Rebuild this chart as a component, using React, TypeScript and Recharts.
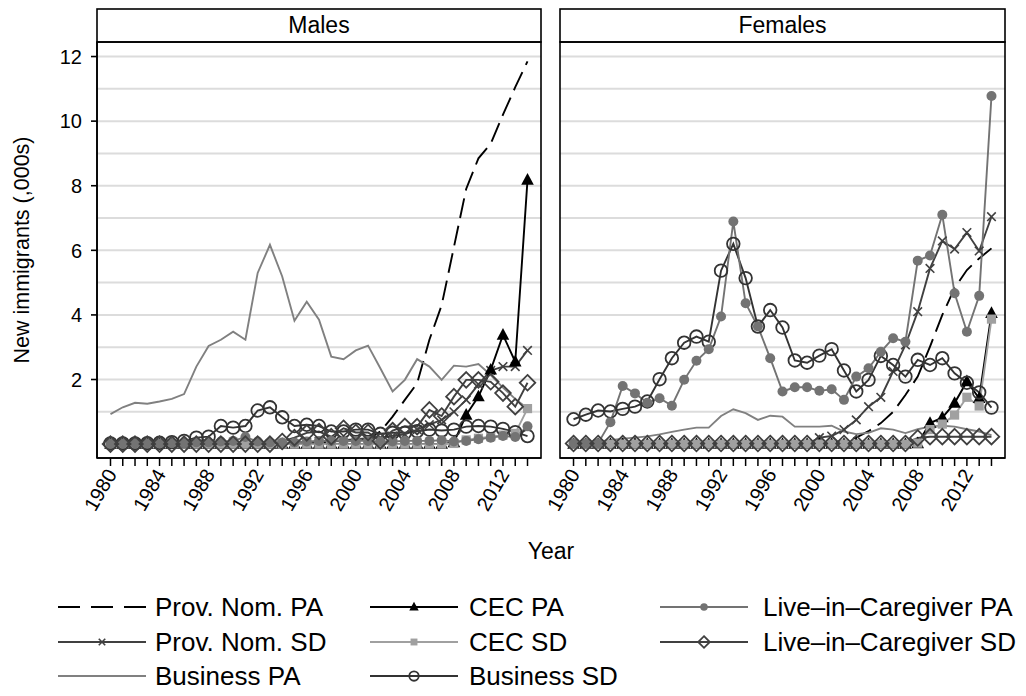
import React from "react";
import { LineChart, Line, XAxis, YAxis, CartesianGrid } from "recharts";

const FONT = '"Liberation Sans", Arial, Helvetica, sans-serif';

const years = [
  1980, 1981, 1982, 1983, 1984, 1985, 1986, 1987, 1988, 1989,
  1990, 1991, 1992, 1993, 1994, 1995, 1996, 1997, 1998, 1999,
  2000, 2001, 2002, 2003, 2004, 2005, 2006, 2007, 2008, 2009,
  2010, 2011, 2012, 2013, 2014,
];
const yearLabels = [1980, 1984, 1988, 1992, 1996, 2000, 2004, 2008, 2012];
const gridValues = [1, 2, 3, 4, 5, 6, 7, 8, 9, 10, 11, 12];
const yLabels = [2, 4, 6, 8, 10, 12];

// Males (thousands)
const provNomPA_M = [0, 0, 0, 0, 0, 0, 0, 0, 0, 0, 0, 0, 0, 0, 0, 0, 0.02, 0.05, 0.08, 0.1, 0.12, 0.15, 0.39, 0.85, 1.37, 1.88, 3.23, 4.3, 6.1, 7.9, 8.85, 9.3, 10.2, 11.05, 11.85];
const provNomSD_M = [0, 0, 0, 0, 0, 0, 0, 0, 0, 0, 0, 0, 0, 0, 0, 0, 0.05, 0.08, 0.1, 0.12, 0.15, 0.18, 0.2, 0.25, 0.3, 0.45, 0.6, 0.75, 1.0, 1.37, 1.85, 2.28, 2.4, 2.4, 2.9];
const businessPA_M = [0.93, 1.14, 1.28, 1.25, 1.32, 1.4, 1.55, 2.4, 3.04, 3.23, 3.48, 3.23, 5.3, 6.17, 5.19, 3.82, 4.41, 3.85, 2.71, 2.63, 2.9, 3.05, 2.35, 1.63, 1.99, 2.63, 2.4, 1.99, 2.43, 2.4, 2.48, 2.14, 1.75, 1.4, 1.1];
const cecPA_M = [0, 0, 0, 0, 0, 0, 0, 0, 0, 0, 0, 0, 0, 0, 0, 0, 0, 0, 0, 0, 0, 0, 0, 0, 0, 0, 0, 0, 0.05, 0.9, 1.47, 2.3, 3.38, 2.55, 8.18];
const cecSD_M = [0, 0, 0, 0, 0, 0, 0, 0, 0, 0, 0, 0, 0, 0, 0, 0, 0, 0, 0, 0, 0, 0, 0, 0, 0, 0, 0, 0, 0.02, 0.13, 0.18, 0.23, 0.28, 0.33, 1.1];
const businessSD_M = [0.02, 0.02, 0.02, 0.03, 0.04, 0.06, 0.1, 0.2, 0.23, 0.56, 0.51, 0.56, 1.04, 1.14, 0.83, 0.56, 0.6, 0.56, 0.39, 0.39, 0.45, 0.45, 0.32, 0.35, 0.35, 0.4, 0.45, 0.42, 0.45, 0.54, 0.56, 0.54, 0.47, 0.37, 0.25];
const licPA_M = [0.02, 0.02, 0.02, 0.02, 0.02, 0.03, 0.03, 0.05, 0.05, 0.08, 0.1, 0.22, 0.08, 0.05, 0.05, 0.05, 0.08, 0.1, 0.1, 0.1, 0.1, 0.1, 0.08, 0.08, 0.1, 0.1, 0.1, 0.12, 0.08, 0.1, 0.15, 0.2, 0.25, 0.22, 0.55];
const licSD_M = [0, 0, 0, 0, 0, 0, 0, 0, 0, 0, 0, 0, 0, 0, 0.08, 0.2, 0.35, 0.39, 0.23, 0.49, 0.36, 0.36, 0.1, 0.42, 0.55, 0.54, 1.06, 0.87, 1.47, 1.99, 1.99, 1.93, 1.58, 1.16, 1.9];

// Females (thousands)
const provNomPA_F = [0, 0, 0, 0, 0, 0, 0, 0, 0, 0, 0, 0, 0, 0, 0, 0, 0, 0, 0, 0, 0.03, 0.06, 0.1, 0.2, 0.4, 0.65, 1.0, 1.52, 2.09, 3.02, 4.0, 4.83, 5.39, 5.75, 6.06];
const provNomSD_F = [0, 0, 0, 0, 0, 0, 0, 0, 0, 0, 0, 0, 0, 0, 0, 0, 0, 0, 0, 0, 0.2, 0.25, 0.45, 0.75, 1.16, 1.45, 2.25, 3.07, 4.1, 5.44, 6.29, 6.04, 6.55, 5.98, 7.04];
const businessPA_F = [0.05, 0.06, 0.08, 0.12, 0.17, 0.2, 0.24, 0.3, 0.38, 0.45, 0.51, 0.51, 0.87, 1.08, 0.96, 0.75, 0.88, 0.85, 0.54, 0.54, 0.54, 0.57, 0.39, 0.31, 0.35, 0.49, 0.45, 0.34, 0.46, 0.54, 0.57, 0.54, 0.46, 0.39, 0.28];
const cecPA_F = [0, 0, 0, 0, 0, 0, 0, 0, 0, 0, 0, 0, 0, 0, 0, 0, 0, 0, 0, 0, 0, 0, 0, 0, 0, 0, 0, 0, 0.02, 0.65, 0.82, 1.27, 1.94, 1.42, 4.05];
const cecSD_F = [0, 0, 0, 0, 0, 0, 0, 0, 0, 0, 0, 0, 0, 0, 0, 0, 0, 0, 0, 0, 0, 0, 0, 0, 0, 0, 0, 0, 0.03, 0.45, 0.62, 0.9, 1.45, 1.18, 3.87];
const businessSD_F = [0.77, 0.91, 1.04, 1.01, 1.09, 1.16, 1.32, 2.01, 2.66, 3.14, 3.33, 3.17, 5.37, 6.2, 5.14, 3.64, 4.15, 3.61, 2.59, 2.52, 2.74, 2.94, 2.28, 1.63, 1.99, 2.73, 2.45, 2.09, 2.61, 2.45, 2.66, 2.19, 1.9, 1.6, 1.13];
const licPA_F = [0.03, 0.03, 0.03, 0.68, 1.8, 1.57, 1.28, 1.42, 1.19, 1.99, 2.58, 2.94, 3.95, 6.89, 4.36, 3.64, 2.66, 1.63, 1.76, 1.76, 1.65, 1.7, 1.37, 2.09, 2.35, 2.86, 3.28, 3.17, 5.68, 5.84, 7.1, 4.67, 3.48, 4.59, 10.78];
const licSD_F = [0.02, 0.02, 0.02, 0.02, 0.02, 0.02, 0.02, 0.02, 0.02, 0.02, 0.02, 0.02, 0.02, 0.02, 0.02, 0.02, 0.02, 0.02, 0.02, 0.02, 0.02, 0.02, 0.02, 0.02, 0.02, 0.02, 0.02, 0.02, 0.19, 0.23, 0.23, 0.23, 0.23, 0.23, 0.23];

type Shape = "none" | "x" | "triangle" | "square" | "dot" | "circle" | "diamond";

interface Series {
  key: string;
  name: string;
  color: string;
  dash?: string;
  shape: Shape;
  males: number[];
  females: number[];
}

// order = legend order (column by column)
const series: Series[] = [
  { key: "pnpa", name: "Prov. Nom. PA", color: "#000000", dash: "20 8", shape: "none", males: provNomPA_M, females: provNomPA_F },
  { key: "pnsd", name: "Prov. Nom. SD", color: "#404040", shape: "x", males: provNomSD_M, females: provNomSD_F },
  { key: "bpa", name: "Business PA", color: "#808080", shape: "none", males: businessPA_M, females: businessPA_F },
  { key: "cecpa", name: "CEC PA", color: "#000000", shape: "triangle", males: cecPA_M, females: cecPA_F },
  { key: "cecsd", name: "CEC SD", color: "#a0a0a0", shape: "square", males: cecSD_M, females: cecSD_F },
  { key: "bsd", name: "Business SD", color: "#333333", shape: "circle", males: businessSD_M, females: businessSD_F },
  { key: "licpa", name: "Live\u2013in\u2013Caregiver PA", color: "#737373", shape: "dot", males: licPA_M, females: licPA_F },
  { key: "licsd", name: "Live\u2013in\u2013Caregiver SD", color: "#404040", shape: "diamond", males: licSD_M, females: licSD_F },
];

const buildRows = (panel: "males" | "females") =>
  years.map((year, i) => {
    const row: Record<string, number> = { year };
    series.forEach((s) => {
      row[s.key] = s[panel][i];
    });
    return row;
  });

const malesRows = buildRows("males");
const femalesRows = buildRows("females");

function Marker({ shape, cx, cy, color, k = 1 }: { shape: Shape; cx: number; cy: number; color: string; k?: number }) {
  if (cx == null || cy == null) return <g />;
  switch (shape) {
    case "x": {
      const h = 4.3 * k;
      return (
        <g stroke={color} strokeWidth={1.6}>
          <line x1={cx - h} y1={cy - h} x2={cx + h} y2={cy + h} />
          <line x1={cx - h} y1={cy + h} x2={cx + h} y2={cy - h} />
        </g>
      );
    }
    case "triangle": {
      const h = 6.3 * k;
      return <polygon points={`${cx},${cy - h * 1.1} ${cx - h},${cy + h * 0.75} ${cx + h},${cy + h * 0.75}`} fill={color} />;
    }
    case "square": {
      const h = 4.6 * k;
      return <rect x={cx - h} y={cy - h} width={2 * h} height={2 * h} fill={color} />;
    }
    case "dot":
      return <circle cx={cx} cy={cy} r={5 * k} fill={color} />;
    case "circle":
      return <circle cx={cx} cy={cy} r={6.3 * k} fill="none" stroke={color} strokeWidth={1.8} />;
    case "diamond": {
      const h = 7.8 * k;
      return (
        <polygon
          points={`${cx},${cy - h} ${cx + h},${cy} ${cx},${cy + h} ${cx - h},${cy}`}
          fill="none"
          stroke={color}
          strokeWidth={1.8}
        />
      );
    }
    default:
      return <g />;
  }
}

const Y_TICK_GAP = 15; // distance from axis to label end
const Y_TICK_LEN = 6;

const makeYTick = (showLabels: boolean) => (props: any) => {
  const { x, y, payload } = props;
  const v = payload.value;
  if (!showLabels || !yLabels.includes(v)) return <g />;
  return (
    <g>
      <line x1={x + Y_TICK_GAP - Y_TICK_LEN} x2={x + Y_TICK_GAP} y1={y} y2={y} stroke="#000" strokeWidth={1.6} />
      <text x={x} y={y} dy="0.36em" textAnchor="end" fontSize={20} fontFamily={FONT} fill="#000">
        {v}
      </text>
    </g>
  );
};

const YearTick = (props: any) => {
  const { x, y, payload } = props;
  if (!yearLabels.includes(payload.value)) return <g />;
  const px = x + 7;
  const py = y + 6;
  return (
    <text x={px} y={py} transform={`rotate(-60, ${px}, ${py})`} textAnchor="end" fontSize={20} fontFamily={FONT} fill="#000">
      {payload.value}
    </text>
  );
};

const PLOT_TOP = 42;
const CHART_H = 530;
const X_AXIS_H = 72;

function Panel({
  rows,
  left,
  width,
  marginLeft,
  marginRight,
  yWidth,
  showLabels,
}: {
  rows: Record<string, number>[];
  left: number;
  width: number;
  marginLeft: number;
  marginRight: number;
  yWidth: number;
  showLabels: boolean;
}) {
  return (
    <div style={{ position: "absolute", left, top: 0 }}>
      <LineChart
        width={width}
        height={CHART_H}
        data={rows}
        margin={{ top: PLOT_TOP, right: marginRight, bottom: 0, left: marginLeft }}
      >
        <CartesianGrid vertical={false} stroke="#dcdcdc" strokeWidth={2} />
        <XAxis
          dataKey="year"
          type="number"
          domain={[1978.9, 2015.1]}
          allowDataOverflow
          ticks={years}
          interval={0}
          tickSize={8}
          tickMargin={2}
          height={X_AXIS_H}
          stroke="#000"
          tickLine={{ stroke: "#000", strokeWidth: 1.5 }}
          axisLine={{ stroke: "#000", strokeWidth: 1.6 }}
          tick={<YearTick />}
        />
        <YAxis
          type="number"
          domain={[-0.43, 12.45]}
          allowDataOverflow
          ticks={gridValues}
          interval={0}
          width={yWidth}
          tickLine={false}
          tickSize={0}
          tickMargin={Y_TICK_GAP}
          axisLine={{ stroke: "#000", strokeWidth: 1.6 }}
          tick={makeYTick(showLabels)}
        />
        {series.map((s) => (
          <Line
            key={s.key}
            dataKey={s.key}
            type="linear"
            stroke={s.color}
            strokeWidth={1.9}
            strokeDasharray={s.dash}
            isAnimationActive={false}
            activeDot={false}
            dot={
              s.shape === "none"
                ? false
                : (p: any) => <Marker key={`${s.key}-${p.index}`} shape={s.shape} cx={p.cx} cy={p.cy} color={s.color} />
            }
          />
        ))}
      </LineChart>
    </div>
  );
}

const panels = [
  { title: "Males", x0: 97, x1: 541 },
  { title: "Females", x0: 560, x1: 1005 },
];

const legendLineX = [58, 370, 660];
const legendTextX = [155, 469, 763];
const legendRows = [607, 642, 676];
const LEGEND_LINE = 88;

export default function App() {
  return (
    <div style={{ position: "absolute", left: 0, top: 0, width: 1026, height: 696, background: "#fff", fontFamily: FONT }}>
      <Panel rows={malesRows} left={0} width={560} marginLeft={0} marginRight={19} yWidth={97} showLabels />
      <Panel rows={femalesRows} left={520} width={500} marginLeft={40} marginRight={15} yWidth={0} showLabels={false} />
      <svg width={1026} height={696} style={{ position: "absolute", left: 0, top: 0, pointerEvents: "none" }}>
        {panels.map((p) => (
          <g key={p.title}>
            <rect x={p.x0} y={9} width={p.x1 - p.x0} height={PLOT_TOP - 9} fill="#fff" stroke="#000" strokeWidth={1.6} />
            <rect x={p.x0} y={PLOT_TOP} width={p.x1 - p.x0} height={CHART_H - X_AXIS_H - PLOT_TOP} fill="none" stroke="#000" strokeWidth={1.6} />
            <text x={(p.x0 + p.x1) / 2} y={33} textAnchor="middle" fontSize={23} fontFamily={FONT} fill="#000">
              {p.title}
            </text>
          </g>
        ))}
        <text
          x={0}
          y={0}
          transform="translate(29, 250) rotate(-90)"
          textAnchor="middle"
          fontSize={21.5}
          fontFamily={FONT}
          fill="#000"
        >
          New immigrants (,000s)
        </text>
        <text x={551} y={559} textAnchor="middle" fontSize={23} fontFamily={FONT} fill="#000">
          Year
        </text>
        {series.map((s, i) => {
          const col = Math.floor(i / 3);
          const lx = legendLineX[col];
          const ly = legendRows[i % 3];
          return (
            <g key={s.key}>
              <line x1={lx} x2={lx + LEGEND_LINE} y1={ly} y2={ly} stroke={s.color} strokeWidth={1.9} strokeDasharray={s.dash ? "22 11" : undefined} />
              <Marker shape={s.shape} cx={lx + LEGEND_LINE / 2} cy={ly} color={s.color} k={0.75} />
              <text x={legendTextX[col]} y={ly} dy="0.36em" fontSize={26} fontFamily={FONT} fill="#000">
                {s.name}
              </text>
            </g>
          );
        })}
      </svg>
    </div>
  );
}
